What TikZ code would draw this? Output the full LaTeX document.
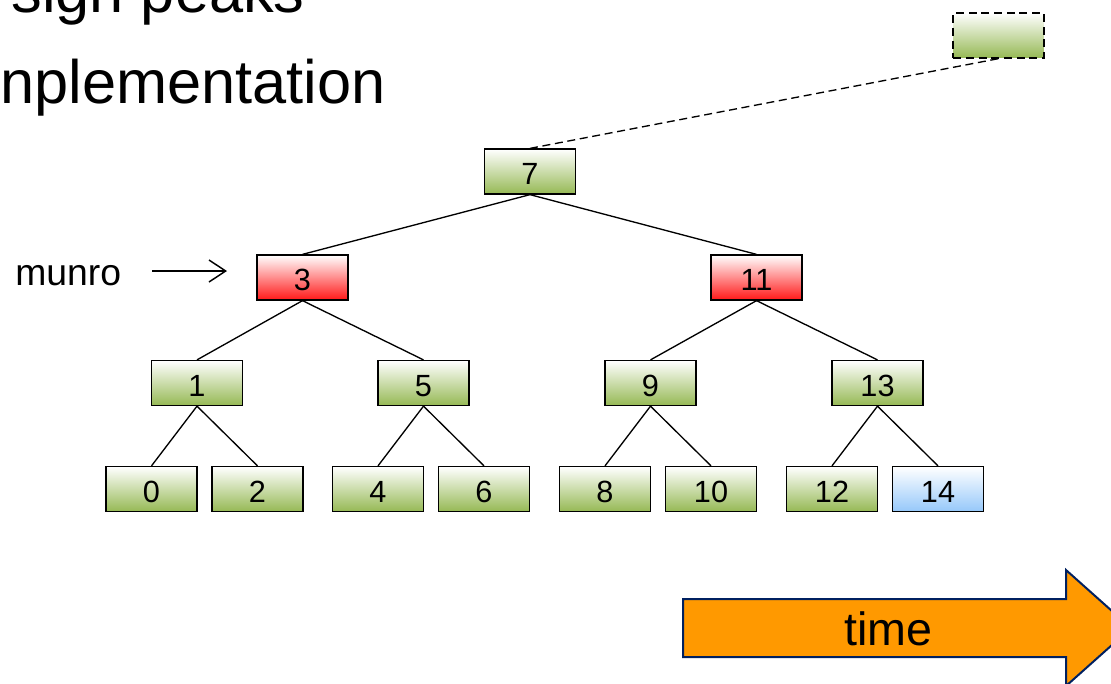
\documentclass[tikz,border=0pt]{standalone}
\usepackage{fontspec}
\setmainfont{Liberation Sans}
\usetikzlibrary{arrows.meta}

\definecolor{keygreen}{RGB}{150,185,85}
\definecolor{keyred}{RGB}{255,25,25}
\definecolor{keyblue}{RGB}{150,200,250}
\definecolor{timeorange}{RGB}{255,153,0}
\definecolor{timeborder}{RGB}{0,32,96}

\tikzset{
	key/.style={draw=black, line width=1.2pt, minimum width=68pt, minimum height=33.5pt,
		inner sep=0pt, text height=20pt, top color=white, bottom color=keygreen,
		font=\fontsize{23}{23}\selectfont},
	redkey/.style={key, bottom color=keyred},
	bluekey/.style={key, bottom color=keyblue},
	sparekey/.style={key, dash pattern=on 6pt off 3.5pt},
	edge/.style={line width=1pt},
	pointer/.style={line width=1.1pt, -{Straight Barb[length=12.5pt, width=16.5pt]}},
}

\begin{document}
\begin{tikzpicture}[x=0.75pt, y=-0.75pt]
	\useasboundingbox (0,0) rectangle (1111,683);
	\clip (0,0) rectangle (1111,683);

	% heading, cut off by the page
	\node[anchor=base east, inner sep=0pt, font=\fontsize{46}{46}\selectfont] (head1) at (305,12) {sign peaks};
	\node[anchor=base east, inner sep=0pt, font=\fontsize{46}{46}\selectfont] (head2) at (386,103) {nplementation};

	% tree
	\node[key] (n7) at (530,171.5) {7};
	\node[redkey] (n3) at (302.5,277.5) {3};
	\node[redkey] (n11) at (756.5,277.5) {11};
	\foreach \k/\x in {1/197, 5/423.5, 9/650.5, 13/877.5}
		\node[key] (n\k) at (\x,383) {\k};
	\foreach \k/\x in {0/151.5, 2/257.5, 4/378, 6/484, 8/605, 10/711, 12/832}
		\node[key] (n\k) at (\x,489) {\k};
	\node[bluekey] (n14) at (938,489) {14};
	\foreach \p/\c in {7/3, 7/11, 3/1, 3/5, 11/9, 11/13, 1/0, 1/2, 5/4, 5/6, 9/8, 9/10, 13/12, 13/14}
		\draw[edge] (n\p.south) -- (n\c.north);

	% spare node
	\node[sparekey] (spare) at (998.5,35.5) {};
	\draw[edge, dash pattern=on 6pt off 3.5pt] (n7.north) -- (spare.south);

	% pointer
	\node[anchor=base west, inner sep=0pt, font=\fontsize{28}{28}\selectfont] (munro) at (15,285) {munro};
	\coordinate (munrotip) at (227,271);
	\draw[pointer] ([xshift=23pt]munro.east |- munrotip) -- (munrotip);

	% time arrow
	\draw[fill=timeorange, draw=timeborder, line width=1.5pt]
		(683,599) -- (1066,599) -- (1066,570) -- (1131,628) -- (1066,686) -- (1066,657) -- (683,657) -- cycle;
	\node[anchor=base, inner sep=0pt, font=\fontsize{35}{35}\selectfont] (time) at (888.5,645) {time};
\end{tikzpicture}
\end{document}
